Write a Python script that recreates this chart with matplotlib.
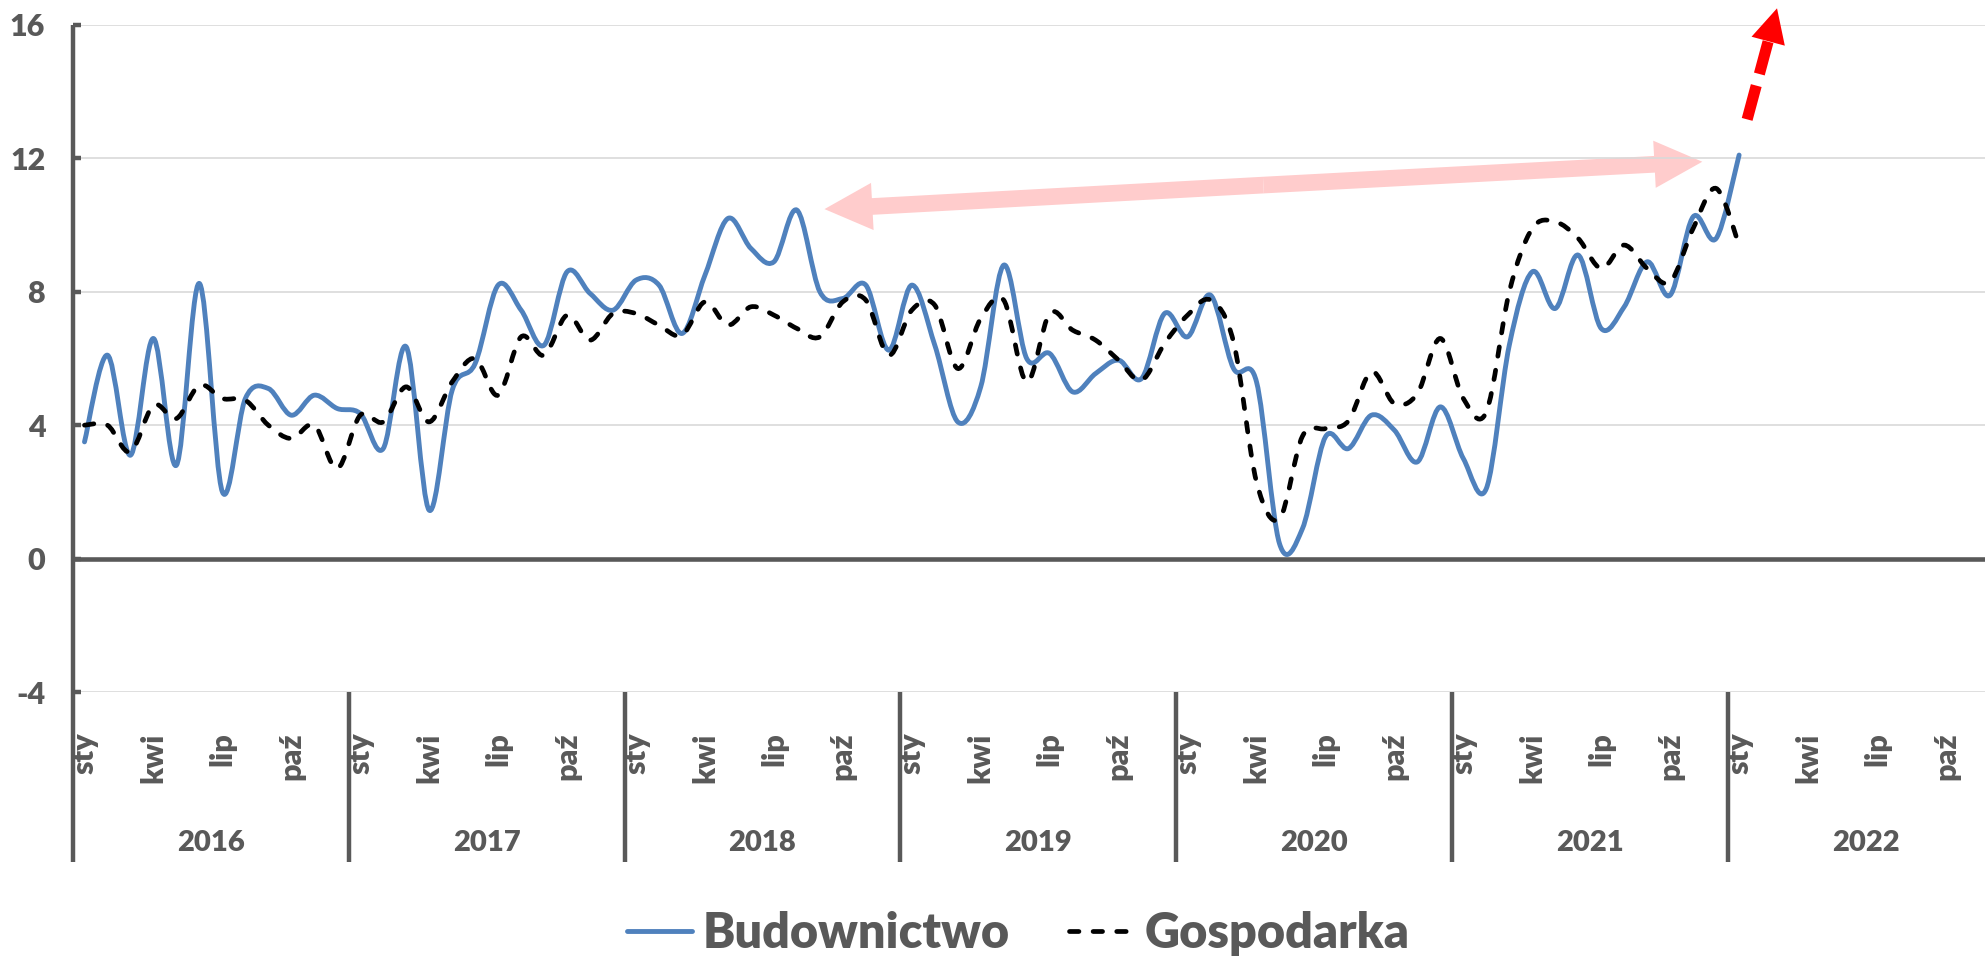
import numpy as np
import matplotlib
matplotlib.use("Agg")
from matplotlib import pyplot as plt
from matplotlib.path import Path
from matplotlib.patches import PathPatch, FancyArrowPatch
from matplotlib.lines import Line2D
import matplotlib.transforms as mtransforms

plt.rcParams['font.family'] = ['Lato', 'DejaVu Sans']
plt.rcParams['font.weight'] = 'bold'

# dane miesięczne sty 2016 - sty 2022
budownictwo = [3.5, 6.1, 3.1, 6.6, 2.8, 8.25, 2.0, 4.8, 5.1, 4.3, 4.9, 4.5,
               4.35, 3.3, 6.35, 1.45, 5.05, 5.85, 8.2, 7.45, 6.4, 8.6, 7.95, 7.45,
               8.35, 8.2, 6.75, 8.5, 10.2, 9.3, 8.9, 10.45, 8.0, 7.8, 8.2, 6.25,
               8.2, 6.4, 4.1, 5.15, 8.8, 6.0, 6.15, 5.0, 5.55, 5.95, 5.4, 7.35,
               6.65, 7.9, 5.7, 5.3, 0.45, 0.9, 3.65, 3.3, 4.3, 3.85, 2.9, 4.55,
               3.0, 2.1, 6.4, 8.6, 7.5, 9.1, 6.9, 7.55, 8.9, 7.9, 10.25, 9.6,
               12.1]
gospodarka = [4.0, 4.0, 3.2, 4.6, 4.2, 5.2, 4.8, 4.75, 4.0, 3.6, 4.0, 2.7,
              4.3, 4.1, 5.15, 4.1, 5.3, 6.0, 4.9, 6.65, 6.1, 7.3, 6.55, 7.35,
              7.35, 7.0, 6.7, 7.7, 7.0, 7.55, 7.3, 6.9, 6.65, 7.7, 7.75, 6.1,
              7.45, 7.6, 5.7, 7.2, 7.75, 5.3, 7.35, 6.85, 6.55, 5.95, 5.35, 6.45,
              7.3, 7.75, 6.5, 2.3, 1.2, 3.67, 3.9, 4.13, 5.6, 4.65, 4.95, 6.6,
              4.8, 4.4, 8.0, 9.9, 10.1, 9.6, 8.7, 9.4, 8.7, 8.3, 9.9, 11.1,
              9.4]
lata = ['2016', '2017', '2018', '2019', '2020', '2021', '2022']
miesiace = ['sty', 'kwi', 'lip', 'paź']
y_ticks = [-4, 0, 4, 8, 12, 16]

GRAY = '#595959'
BLUE = '#4F81BD'


def smooth_path(x, y):
    # krzywa wygladzona jak w Excelu (Bezier przez punkty)
    pts = np.column_stack([x, y]).astype(float)
    n = len(pts)
    verts = [pts[0]]
    codes = [Path.MOVETO]
    for i in range(n - 1):
        p0 = pts[i - 1] if i > 0 else pts[i]
        p1 = pts[i]
        p2 = pts[i + 1]
        p3 = pts[i + 2] if i + 2 < n else pts[i + 1]
        c1 = p1 + (p2 - p0) / 6.0
        c2 = p2 - (p3 - p1) / 6.0
        verts += [c1, c2, p2]
        codes += [Path.CURVE4] * 3
    return Path(verts, codes)


fig = plt.figure(figsize=(19.85, 9.57), dpi=100)
ax = fig.add_axes([73 / 1985, 1 - 692 / 957, (1985 - 73) / 1985, (692 - 25) / 957])

x = np.arange(len(budownictwo))

ax.add_patch(PathPatch(smooth_path(x, budownictwo), fill=False, ec=BLUE, lw=3.5,
                       capstyle='round', joinstyle='round', zorder=3))
ax.add_patch(PathPatch(smooth_path(x, gospodarka), fill=False, ec='black', lw=3.4,
                       linestyle=(0, (2.0, 3.0)), capstyle='round', zorder=4))

ax.set_xlim(-0.5, 82.7)
ax.set_ylim(-4, 16)
ax.set_yticks(y_ticks)
ax.set_yticklabels([str(v) for v in y_ticks], fontsize=22, color=GRAY, fontweight='heavy')
ax.tick_params(axis='y', direction='in', length=6, width=3.2, color=GRAY, pad=20)
ax.set_axisbelow(True)
ax.yaxis.grid(True, color='#D9D9D9', lw=1.2)
for s in ax.spines.values():
    s.set_visible(False)

ax.axhline(0, color=GRAY, lw=3.3, zorder=2)

# os kategorii: miesiace i lata
pos = [12 * k + 3 * m for k in range(len(lata)) for m in range(4)]
ax.set_xticks(pos)
ax.set_xticklabels(miesiace * len(lata), rotation=90, fontsize=22, color=GRAY,
                   fontweight='heavy', va='top')
ax.tick_params(axis='x', length=0, pad=29)

trans = mtransforms.blended_transform_factory(ax.transData, ax.transAxes)
for k, rok in enumerate(lata):
    ax.text(12 * k + 5.5, -0.226, rok, transform=trans, ha='center', va='center',
            fontsize=21, color=GRAY, fontweight='heavy')
    top = 1.0 if k == 0 else 0.0
    ax.plot([12 * k - 0.5, 12 * k - 0.5], [-0.255, top], transform=trans, color=GRAY,
            lw=3.2, clip_on=False, solid_capstyle='butt', zorder=5)

# strzalka rozowa (dwustronna)
mid = (51.3, 11.2)
for end in [(32.2, 10.48), (70.4, 11.9)]:
    ax.add_patch(FancyArrowPatch(mid, end,
                                 arrowstyle='simple,head_length=34.5,head_width=34,tail_width=12',
                                 mutation_scale=1, shrinkA=0, shrinkB=0, lw=0,
                                 color='#FFCCCC', zorder=0.4))

# strzalka czerwona przerywana
start = (72.35, 13.17)
base = (73.26, 15.5)
tip = (73.65, 16.5)
ax.plot([start[0], base[0]], [start[1], base[1]], color='red', lw=8,
        dashes=(3.15, 1.08), solid_capstyle='butt', dash_capstyle='butt', clip_on=False, zorder=6)
ax.annotate('', xy=tip, xytext=start, annotation_clip=False,
            arrowprops=dict(arrowstyle='-|>,head_length=24.5,head_width=12.4', mutation_scale=1,
                            lw=0, fc='red', ec='red', shrinkA=0, shrinkB=0, clip_on=False),
            zorder=6)

handles = [Line2D([], [], color=BLUE, lw=3.5, solid_capstyle='round'),
           Line2D([], [], color='black', lw=3.4, linestyle=(0, (2.0, 3.0)), dash_capstyle='round')]
leg = fig.legend(handles, ['Budownictwo', 'Gospodarka'], loc='center', bbox_to_anchor=(0.513, 0.025),
                 ncol=2, frameon=False, fontsize=35, handlelength=1.33, handletextpad=0.23,
                 columnspacing=1.2, borderpad=0)
for t in leg.get_texts():
    t.set_color(GRAY)
    t.set_fontweight('heavy')

fig.savefig('out.png', dpi=100)
